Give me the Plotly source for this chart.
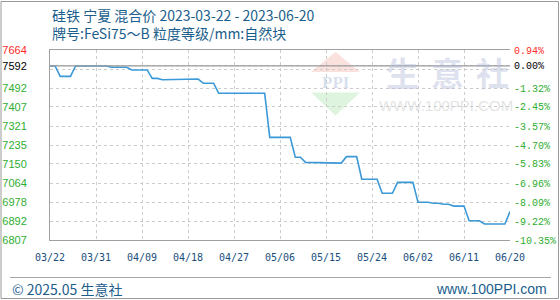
import pandas as pd
import plotly.graph_objects as go

# ---------------- data ----------------
START_DATE = "2023-03-22"
END_DATE = "2023-06-20"
PRICES = [
    7592, 7592, 7545, 7545, 7545, 7592, 7592, 7592, 7592, 7592,
    7592, 7592, 7586, 7586, 7586, 7586, 7574, 7574, 7574, 7574,
    7536, 7536, 7530, 7530, 7530, 7530, 7530, 7530, 7533, 7533,
    7514, 7514, 7514, 7469, 7469, 7469, 7469, 7469, 7469, 7469,
    7469, 7469, 7469, 7270, 7270, 7270, 7270, 7270, 7180, 7180,
    7157, 7157, 7157, 7157, 7157, 7154, 7154, 7154, 7183, 7183,
    7183, 7081, 7081, 7081, 7081, 7018, 7018, 7018, 7067, 7067,
    7067, 7067, 6977, 6977, 6977, 6973, 6973, 6968, 6968, 6960,
    6960, 6960, 6894, 6894, 6894, 6879, 6879, 6879, 6879, 6879,
    6935,
]
BASE = 7592
Y_MAX = 7664
Y_MIN = 6807
Y_GRID = [7664, 7578, 7492, 7407, 7321, 7235, 7150, 7064, 6978, 6892, 6807]
Y_LABELS = ["7664", "", "7492", "7407", "7321", "7235", "7150", "7064", "6978", "6892", "6807"]
PCT_LABELS = ["0.94%", "", "-1.32%", "-2.45%", "-3.57%", "-4.70%", "-5.83%",
              "-6.96%", "-8.09%", "-9.22%", "-10.35%"]
BASE_PCT_LABEL = "0.00%"
X_TICK_LABELS = ["03/22", "03/31", "04/09", "04/18", "04/27", "05/06",
                 "05/15", "05/24", "06/02", "06/11", "06/20"]
TITLE1 = "硅铁 宁夏 混合价 2023-03-22 - 2023-06-20"
TITLE2 = "牌号:FeSi75～B 粒度等级/mm:自然块"
FOOT_LEFT = "© 2025.05 生意社"
FOOT_RIGHT = "www.100PPI.com"

# ---------------- derived ----------------
dates = pd.date_range(START_DATE, END_DATE, freq="D")
x_tick_dates = dates[::9]
pct = lambda v: (v / BASE - 1) * 100

RED = "#ff2b2b"
GREEN = "#2fae2f"
BLACK = "#000000"
BLUE_TXT = "#1b5e8c"

def col(txt, c):
    return f'<span style="color:{c}">{txt}</span>'

left_vals = Y_GRID + [BASE]
left_text = []
for i, t in enumerate(Y_LABELS):
    left_text.append(col(t, RED if i == 0 else GREEN) if t else "")
left_text.append(col(str(BASE), BLACK))

right_vals = [pct(v) for v in Y_GRID] + [0.0]
right_text = []
for i, t in enumerate(PCT_LABELS):
    right_text.append(col(t, RED if i == 0 else GREEN) if t else "")
right_text.append(col(BASE_PCT_LABEL, BLACK))

fig = go.Figure()
fig.add_trace(go.Scatter(
    x=dates, y=PRICES, mode="lines",
    line=dict(color="#3b99d8", width=1.6, shape="linear"),
    hoverinfo="skip", showlegend=False,
))
fig.add_trace(go.Scatter(
    x=dates, y=[pct(v) for v in PRICES], mode="lines", yaxis="y2",
    line=dict(color="rgba(0,0,0,0)", width=0), hoverinfo="skip", showlegend=False,
))

fig.add_hline(y=BASE, line=dict(color="#9a9a9a", width=1.2), layer="above")

grid = dict(showgrid=True, gridcolor="#cccccc", gridwidth=1, griddash="3px,3px")

fig.update_layout(
    width=560, height=300,
    margin=dict(l=50, r=50, t=50, b=60, autoexpand=False),
    paper_bgcolor="white", plot_bgcolor="white",
    showlegend=False,
    xaxis=dict(
        type="date", range=[dates[0], dates[-1]],
        tickvals=list(x_tick_dates), ticktext=X_TICK_LABELS,
        ticks="", ticklabelstandoff=8, automargin=False,
        tickfont=dict(family="DejaVu Sans Mono", size=10, color="#1a4f7e"),
        showline=True, linecolor="#a0a0a0", linewidth=1, mirror=True,
        zeroline=False, **grid,
    ),
    yaxis=dict(
        range=[Y_MIN, Y_MAX], tickvals=left_vals, ticktext=left_text,
        ticks="", ticklabelstandoff=20, automargin=False,
        tickfont=dict(family="Liberation Sans", size=11),
        showline=True, linecolor="#a0a0a0", linewidth=1,
        zeroline=False, **grid,
    ),
    yaxis2=dict(
        overlaying="y", side="right", automargin=False,
        range=[pct(Y_MIN), pct(Y_MAX)], tickvals=right_vals, ticktext=right_text,
        ticks="", ticklabelstandoff=3,
        tickfont=dict(family="Liberation Mono", size=10),
        showgrid=False, zeroline=False, showline=False,
    ),
)

# ---- frame, separator ----
px = lambda p: (p - 50) / 460.0
py = lambda q: (240 - q) / 190.0
fig.add_shape(type="rect", xref="paper", yref="paper",
              x0=px(1), x1=px(558.5), y0=py(298.5), y1=py(1.5),
              line=dict(color="#9a9a9a", width=1), layer="below")
fig.add_shape(type="line", xref="paper", yref="paper",
              x0=px(10), x1=px(551), y0=py(277.5), y1=py(277.5),
              line=dict(color="#a8a8a8", width=1))

# ---- watermark logo ----
fig.add_shape(type="path", xref="paper", yref="paper", layer="below",
              path=f"M {px(335.5)} {py(52)} L {px(311)} {py(72)} L {px(360)} {py(72)} Z",
              fillcolor="rgba(248,200,195,0.55)", line=dict(width=0))
fig.add_shape(type="path", xref="paper", yref="paper", layer="below",
              path=f"M {px(311)} {py(92.5)} L {px(360)} {py(92.5)} L {px(335.5)} {py(115.5)} Z",
              fillcolor="rgba(195,235,195,0.55)", line=dict(width=0))
fig.add_annotation(text="<b>PPI</b>", xref="paper", yref="paper", x=px(335.5), y=py(82),
                   showarrow=False, xanchor="center", yanchor="middle",
                   font=dict(family="Liberation Serif", size=17, color="rgba(170,185,215,0.45)"))
for ch, cx in zip("生意社", [402, 447, 492]):
    fig.add_annotation(text=f"<b>{ch}</b>", xref="paper", yref="paper", x=px(cx), y=py(72),
                       showarrow=False, xanchor="center", yanchor="middle",
                       font=dict(family="Noto Sans CJK SC", size=33, color="rgba(175,185,215,0.42)"))
fig.add_annotation(text="WWW.100PPI.COM", xref="paper", yref="paper", x=px(446), y=py(105),
                   showarrow=False, xanchor="center", yanchor="middle",
                   font=dict(family="Liberation Sans", size=15, color="rgba(200,200,200,0.5)"))

# ---- titles & footer ----
fig.add_annotation(text=TITLE1, xref="paper", yref="paper", x=px(50), y=py(15),
                   showarrow=False, xanchor="left", yanchor="middle",
                   font=dict(family="Noto Sans CJK SC", size=14, color=BLUE_TXT))
fig.add_annotation(text=TITLE2, xref="paper", yref="paper", x=px(50), y=py(33),
                   showarrow=False, xanchor="left", yanchor="middle",
                   font=dict(family="Noto Sans CJK SC", size=14, color=BLUE_TXT))
fig.add_annotation(text=FOOT_LEFT, xref="paper", yref="paper", x=px(10), y=py(289),
                   showarrow=False, xanchor="left", yanchor="middle",
                   font=dict(family="Noto Sans CJK SC", size=14, color=BLUE_TXT))
fig.add_annotation(text=FOOT_RIGHT, xref="paper", yref="paper", x=px(549), y=py(289),
                   showarrow=False, xanchor="right", yanchor="middle",
                   font=dict(family="Liberation Sans", size=14, color=BLUE_TXT))

fig.write_html("out.html")
